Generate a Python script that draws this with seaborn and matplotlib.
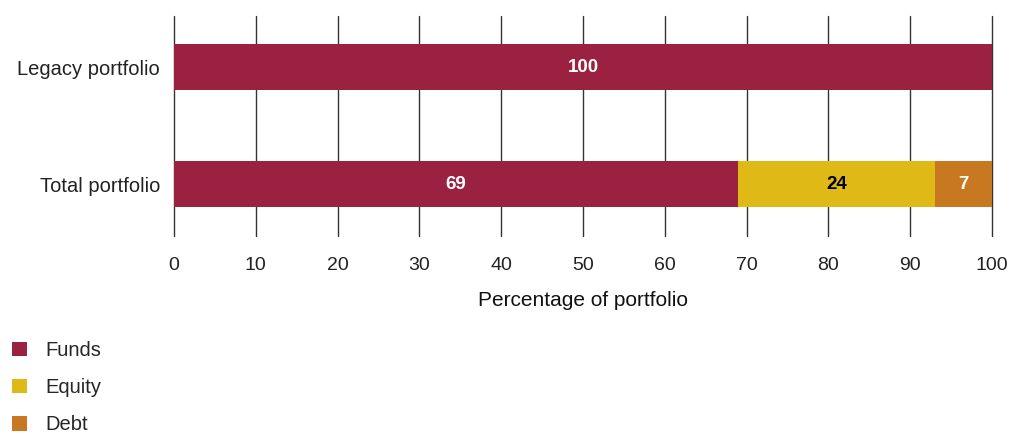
import numpy as np
import pandas as pd
import matplotlib
matplotlib.use("Agg")
import matplotlib.pyplot as plt
import seaborn as sns
from matplotlib.patches import Patch

categories = ["Legacy portfolio", "Total portfolio"]
series_names = ["Funds", "Equity", "Debt"]
funds = [100, 69]
equity = [0, 24]
debt = [0, 7]
x_ticks = [0, 10, 20, 30, 40, 50, 60, 70, 80, 90, 100]

colors = {"Funds": "#9b2140", "Equity": "#dfba16", "Debt": "#c87820"}
label_colors = {"Funds": "white", "Equity": "black", "Debt": "white"}

sns.set_theme(style="white")
plt.rcParams["font.family"] = ["Liberation Sans", "DejaVu Sans"]

df = pd.DataFrame({"category": categories, "Funds": funds, "Equity": equity, "Debt": debt})
cum = df[series_names].cumsum(axis=1)

fig = plt.figure(figsize=(10.11, 4.34), dpi=100)
ax = fig.add_axes([174 / 1011, 1 - 236 / 434, (992 - 174) / 1011, (236 - 16) / 434])

# stacked bars: draw cumulative totals from the outermost segment inward
for name in reversed(series_names):
    sns.barplot(x=cum[name], y=df["category"], orient="h", color=colors[name],
                width=0.39, saturation=1, linewidth=0, edgecolor="none", ax=ax, zorder=3)

# value labels centred in each segment
for i in range(len(categories)):
    start = 0
    for name in series_names:
        v = df.loc[i, name]
        if v > 0:
            ax.text(start + v / 2, i, f"{v}", ha="center", va="center",
                    color=label_colors[name], fontsize=13.5, fontweight="bold", zorder=4)
        start += v

ax.set_xlim(0, 100)
ax.set_ylim(1.444, -0.436)
ax.set_xticks(x_ticks)
ax.set_xticklabels([str(t) for t in x_ticks])
ax.xaxis.grid(True, color="#333333", linewidth=1.0, zorder=0)
for gl in ax.get_xgridlines():
    gl.set_clip_on(False)
ax.yaxis.grid(False)
ax.set_axisbelow(True)
for s in ax.spines.values():
    s.set_visible(False)
ax.tick_params(axis="x", length=0, pad=15, labelsize=14, labelcolor="#222222")
ax.tick_params(axis="y", length=0, pad=10, labelsize=14.5, labelcolor="#222222")
ax.set_ylabel("")
ax.set_xlabel("Percentage of portfolio", fontsize=15, color="#111111", labelpad=12)

handles = [Patch(facecolor=colors[n], edgecolor="none", label=n) for n in series_names]
fig.legend(handles=handles, loc="upper left", bbox_to_anchor=(12 / 1011, 1 - 341 / 434),
           frameon=False, fontsize=14.5, handlelength=0.75, handleheight=0.75,
           handletextpad=0.9, labelspacing=0.9, borderaxespad=0, borderpad=0)

fig.savefig("out.png", dpi=100, facecolor="white")
